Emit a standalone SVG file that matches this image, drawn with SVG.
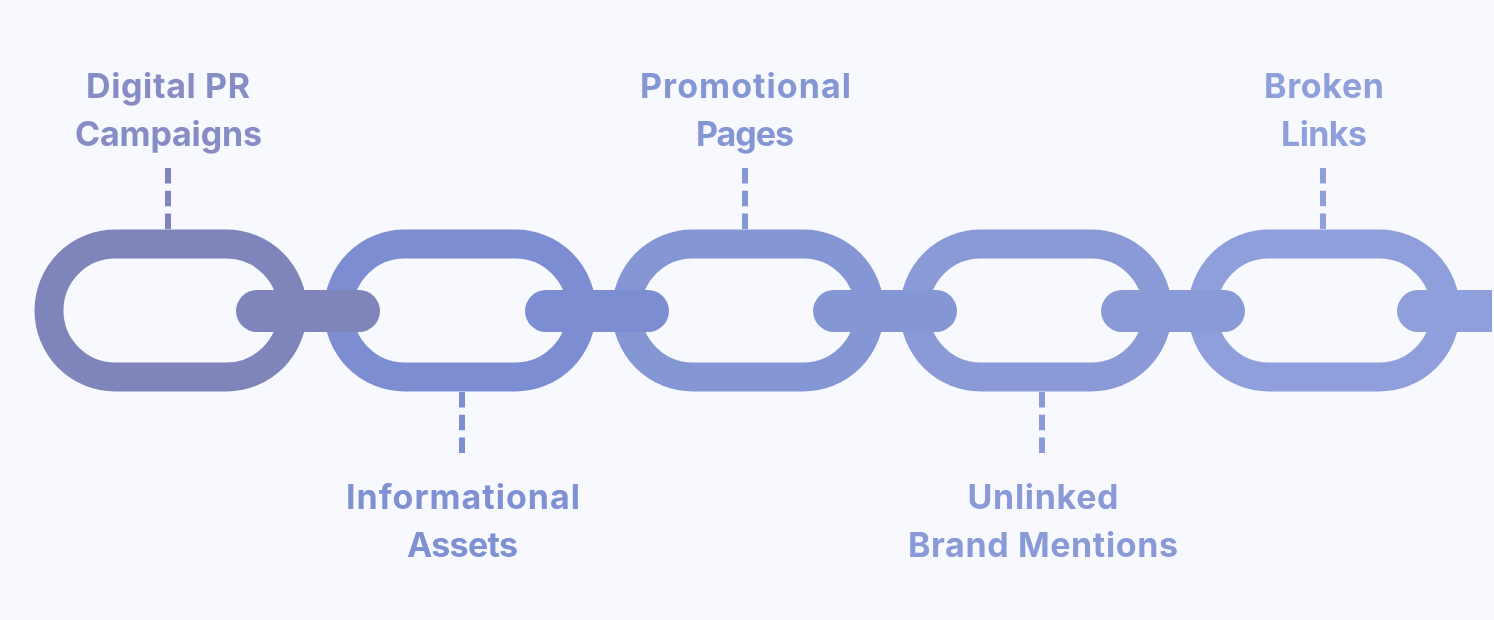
<svg xmlns="http://www.w3.org/2000/svg" width="1494" height="620" viewBox="0 0 1494 620">
<style>
.ring{fill:none;stroke-width:29}
.lbl{font-family:"Inter","Liberation Sans",sans-serif;font-size:34px;font-weight:700;text-anchor:middle}
.dash{stroke-width:6;stroke-dasharray:15.5 7.25;fill:none}
</style>
<defs>
<filter id="soft" x="-5%" y="-5%" width="110%" height="110%"><feGaussianBlur stdDeviation="0.6"/></filter>
</defs>
<rect width="1494" height="620" fill="#f7f9fe"/>
<g filter="url(#soft)">
<g id="connectors">
<path class="dash" stroke="#7f84ba" d="M168 168V229"/>
<path class="dash" stroke="#7c8dd2" d="M462 392V453"/>
<path class="dash" stroke="#8496d4" d="M745 168V229"/>
<path class="dash" stroke="#8a9ad7" d="M1042 392V453"/>
<path class="dash" stroke="#8f9fdb" d="M1323 168V229"/>
</g>
<g id="link5">
<rect class="ring" x="1202.500" y="244" width="243" height="133" rx="66" ry="66.500" stroke="#8f9fdb"/>
<path d="M1418 290H1492V332H1418A21 21 0 0 1 1418 290Z" fill="#8f9fdb"/>
<text class="lbl" x="1324" y="97.500" fill="#8f9fdb" textLength="120">Broken</text>
<text class="lbl" x="1324" y="145.500" fill="#8f9fdb" textLength="86">Links</text>
</g>
<g id="link4">
<rect class="ring" x="914.500" y="244" width="243" height="133" rx="66" ry="66.500" stroke="#8a9ad7"/>
<rect x="1101" y="290" width="144" height="42" rx="21" fill="#8a9ad7"/>
<text class="lbl" x="1043" y="508.500" fill="#8a9ad7" textLength="151">Unlinked</text>
<text class="lbl" x="1043" y="556.500" fill="#8a9ad7" textLength="270">Brand Mentions</text>
</g>
<g id="link3">
<rect class="ring" x="626.500" y="244" width="243" height="133" rx="66" ry="66.500" stroke="#8496d4"/>
<rect x="813" y="290" width="144" height="42" rx="21" fill="#8496d4"/>
<text class="lbl" x="745.500" y="97.500" fill="#8496d4" textLength="211">Promotional</text>
<text class="lbl" x="745" y="145.500" fill="#8496d4" textLength="98">Pages</text>
</g>
<g id="link2">
<rect class="ring" x="338.500" y="244" width="243" height="133" rx="66" ry="66.500" stroke="#7c8dd2"/>
<rect x="525" y="290" width="144" height="42" rx="21" fill="#7c8dd2"/>
<text class="lbl" x="463" y="508.500" fill="#7f90d3" textLength="234">Informational</text>
<text class="lbl" x="462.500" y="556.500" fill="#7f90d3" textLength="111">Assets</text>
</g>
<g id="link1">
<rect class="ring" x="49" y="244" width="243.500" height="133" rx="66" ry="66.500" stroke="#7f84ba"/>
<rect x="236" y="290" width="144" height="42" rx="21" fill="#7f84ba"/>
<text class="lbl" x="168" y="97.500" fill="#858dc4" textLength="164">Digital PR</text>
<text class="lbl" x="168.500" y="145.500" fill="#858dc4" textLength="187">Campaigns</text>
</g>
</g>
</svg>
